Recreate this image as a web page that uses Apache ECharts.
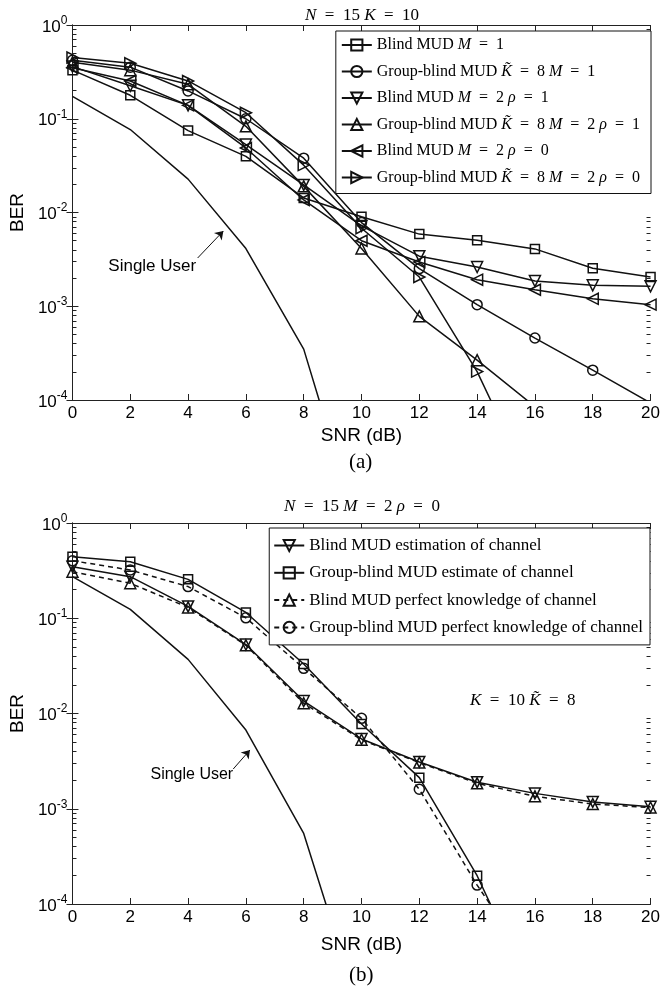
<!DOCTYPE html>
<html><head><meta charset="utf-8">
<script src="https://cdn.jsdelivr.net/npm/echarts@6/dist/echarts.min.js"></script>
<style>html,body{margin:0;padding:0;background:#fff}#c{width:663px;height:993px}</style>
</head><body><div id="c"></div>
<script>
// ---------- data ----------
const snr = [0, 2, 4, 6, 8, 10, 12, 14, 16, 18, 20];
// (a) N=15 K=10
const aBlindM1      = [0.33, 0.178, 0.0748, 0.0397, 0.0143, 0.0090, 0.00588, 0.00507, 0.00409, 0.00254, 0.00205];
const aGroupM1      = [0.42, 0.355, 0.198, 0.100, 0.038, 0.0078, 0.00252, 0.00104, 0.000458, 0.000208, 0.000093];
const aBlindM2r1    = [0.36, 0.225, 0.139, 0.053, 0.0197, 0.0072, 0.00342, 0.00262, 0.00186, 0.00167, 0.00163];
const aGroupM2r1    = [0.40, 0.33, 0.233, 0.083, 0.019, 0.00413, 0.00078, 0.000266, 0.000085];
const aBlindM2r0    = [0.35, 0.253, 0.139, 0.0488, 0.0136, 0.0050, 0.00297, 0.00192, 0.0015, 0.0012, 0.00104];
const aGroupM2r0    = [0.45, 0.39, 0.253, 0.116, 0.032, 0.0068, 0.00205, 0.000201, 0.00001];
const aSingle       = [0.173, 0.0767, 0.0227, 0.00413, 0.000349, 0.0000032];
// (b) N=15 M=2 rho=0
const bBlindEst     = [0.348, 0.273, 0.133, 0.053, 0.0135, 0.0054, 0.0031, 0.0019, 0.00145, 0.00118, 0.00105];
const bGroupEst     = [0.443, 0.392, 0.256, 0.115, 0.0331, 0.00776, 0.00212, 0.000198, 0.00001];
const bBlindPerf    = [0.308, 0.233, 0.130, 0.052, 0.0128, 0.0053, 0.00305, 0.00185, 0.00135, 0.00112, 0.00103];
const bGroupPerf    = [0.402, 0.321, 0.215, 0.101, 0.0298, 0.0089, 0.0016, 0.000158, 0.00002];
const bSingle       = [0.273, 0.124, 0.037, 0.0067, 0.00055, 0.0000065];

const aNames = ['aBlindM1','aGroupM1','aBlindM2r1','aGroupM2r1','aBlindM2r0','aGroupM2r0'];
const bNames = ['bBlindEst','bGroupEst','bBlindPerf','bGroupPerf'];
const E = '\u2002=\u2002';
const legendText = {
  aBlindM1: 'Blind MUD {i|M}' + E + '1',
  aGroupM1: 'Group-blind MUD {i|K\u0303}' + E + '8 {i|M}' + E + '1',
  aBlindM2r1: 'Blind MUD {i|M}' + E + '2 {i|\u03C1}' + E + '1',
  aGroupM2r1: 'Group-blind MUD {i|K\u0303}' + E + '8 {i|M}' + E + '2 {i|\u03C1}' + E + '1',
  aBlindM2r0: 'Blind MUD {i|M}' + E + '2 {i|\u03C1}' + E + '0',
  aGroupM2r0: 'Group-blind MUD {i|K\u0303}' + E + '8 {i|M}' + E + '2 {i|\u03C1}' + E + '0',
  bBlindEst: 'Blind MUD estimation of channel',
  bGroupEst: 'Group-blind MUD estimate of channel',
  bBlindPerf: 'Blind MUD perfect knowledge of channel',
  bGroupPerf: 'Group-blind MUD perfect knowledge of channel'
};

// ---------- style ----------
const INK = '#111';
const SANS = 'Liberation Sans';
const SERIF = 'Liberation Serif';
const pair = arr => arr.map((v, i) => [snr[i], v]);

function mk(name, data, grid, symbol, rot, dashed, size) {
  return {
    name, type: 'line', xAxisIndex: grid * 2, yAxisIndex: grid * 2,
    data: pair(data), symbol, symbolRotate: rot, symbolSize: size,
    showSymbol: true, clip: true, animation: false, z: 3,
    lineStyle: { color: INK, width: 1.5, type: dashed ? [5, 4] : 'solid' },
    itemStyle: { color: 'transparent', borderColor: INK, borderWidth: 1.5 },
    emphasis: { disabled: true }
  };
}
function single(name, data, grid, arrow, textPt, fs) {
  return {
    name, type: 'line', xAxisIndex: grid * 2, yAxisIndex: grid * 2,
    data: pair(data), showSymbol: false, symbol: 'none', clip: true, animation: false,
    lineStyle: { color: INK, width: 1.5 }, emphasis: { disabled: true },
    markLine: {
      silent: true, animation: false, symbol: ['none', 'arrow'], symbolSize: 8,
      lineStyle: { color: INK, width: 1, type: 'solid' }, label: { show: false },
      data: [[{ coord: arrow[0] }, { coord: arrow[1] }]]
    },
    markPoint: {
      silent: true, animation: false, symbol: 'circle', symbolSize: 1,
      itemStyle: { color: 'transparent' },
      label: { show: true, position: 'inside', formatter: 'Single User', fontFamily: SANS, fontSize: fs, color: '#000' },
      data: [{ coord: textPt, value: 0 }]
    }
  };
}
const decades = [0.0001, 0.001, 0.01, 0.1];
const minorVals = [];
decades.forEach(d => { for (let k = 2; k <= 9; k++) minorVals.push(+(d * k).toPrecision(6)); });

const grids = [
  { left: 69, right: 8, top: 25, height: 375 },
  { left: 69, right: 8, top: 523, height: 381 }
];
const nameGaps = [26, 31];
const xAxes = [], yAxes = [], yMinor = [];
[0, 1].forEach(g => {
  const axLine = { show: true, lineStyle: { color: '#222', width: 1 } };
  const tick = { show: true, inside: true, length: 6, lineStyle: { color: '#222', width: 1 } };
  xAxes.push({
    type: 'value', gridIndex: g, min: 0, max: 20, interval: 2, position: 'bottom',
    axisLine: axLine, axisTick: tick, splitLine: { show: false },
    axisLabel: { fontFamily: SANS, fontSize: 17, color: '#000', margin: 5 },
    name: 'SNR (dB)', nameLocation: 'middle', nameGap: nameGaps[g],
    nameTextStyle: { fontFamily: SANS, fontSize: 19, color: '#000' }
  });
  xAxes.push({
    type: 'value', gridIndex: g, min: 0, max: 20, interval: 2, position: 'top',
    axisLine: axLine, axisTick: tick, splitLine: { show: false }, axisLabel: { show: false }
  });
  yAxes.push({
    type: 'log', logBase: 10, gridIndex: g, min: 0.0001, max: 1, position: 'left',
    axisLine: axLine, axisTick: tick, splitLine: { show: false }, minorTick: { show: false },
    axisLabel: {
      margin: 5, color: '#000',
      formatter: v => '{b|10}{s|' + Math.round(Math.log10(v)) + '}',
      rich: {
        b: { fontFamily: SANS, fontSize: 17, color: '#000', verticalAlign: 'bottom' },
        s: { fontFamily: SANS, fontSize: 12, color: '#000', verticalAlign: 'bottom', padding: [0, 0, 9, 0] }
      }
    },
    name: 'BER', nameLocation: 'middle', nameGap: 42, nameRotate: 90,
    nameTextStyle: { fontFamily: SANS, fontSize: 19, color: '#000' }
  });
  yAxes.push({
    type: 'log', logBase: 10, gridIndex: g, min: 0.0001, max: 1, position: 'right',
    axisLine: axLine, axisTick: tick, splitLine: { show: false }, axisLabel: { show: false }
  });
  ['left', 'right'].forEach(pos => {
    yMinor.push({
      type: 'log', logBase: 10, gridIndex: g, min: 0.0001, max: 1, position: pos, offset: 0,
      axisLine: { show: false }, splitLine: { show: false },
      axisLabel: { show: false, customValues: minorVals },
      axisTick: { show: true, inside: true, length: 4, customValues: minorVals,
        lineStyle: { color: '#222', width: 1 } }
    });
  });
});

const legends = [
  {
    data: aNames, orient: 'vertical', right: 12, top: 31, padding: [6, 11, 8, 5],
    itemWidth: 30, itemHeight: 14, itemGap: 10.5, borderColor: '#111', borderWidth: 1,
    backgroundColor: '#fff', selectedMode: false, z: 10,
    formatter: n => legendText[n],
    textStyle: { fontFamily: SERIF, fontSize: 16, lineHeight: 16, color: '#000',
      rich: { i: { fontFamily: SERIF, fontStyle: 'italic', fontSize: 16, lineHeight: 16, color: '#000' } } }
  },
  {
    data: bNames, orient: 'vertical', right: 13, top: 528, padding: [9, 7, 9, 4],
    itemWidth: 30, itemHeight: 14, itemGap: 10.3, borderColor: '#111', borderWidth: 1,
    backgroundColor: '#fff', selectedMode: false, z: 10,
    formatter: n => legendText[n],
    textStyle: { fontFamily: SERIF, fontSize: 17, lineHeight: 17, color: '#000' }
  }
];

const series = [
  mk('aBlindM1', aBlindM1, 0, 'rect', 0, false, 9),
  mk('aGroupM1', aGroupM1, 0, 'circle', 0, false, 10),
  mk('aBlindM2r1', aBlindM2r1, 0, 'triangle', 180, false, 11),
  mk('aGroupM2r1', aGroupM2r1, 0, 'triangle', 0, false, 11),
  mk('aBlindM2r0', aBlindM2r0, 0, 'triangle', 90, false, 11),
  mk('aGroupM2r0', aGroupM2r0, 0, 'triangle', -90, false, 11),
  single('aSingle', aSingle, 0, [[4.33, 0.00327], [5.22, 0.00635]], [2.76, 0.00269], 17),
  mk('bBlindEst', bBlindEst, 1, 'triangle', 180, false, 11),
  mk('bGroupEst', bGroupEst, 1, 'rect', 0, false, 9),
  mk('bBlindPerf', bBlindPerf, 1, 'triangle', 0, true, 11),
  mk('bGroupPerf', bGroupPerf, 1, 'circle', 0, true, 10),
  single('bSingle', bSingle, 1, [[5.56, 0.00261], [6.14, 0.00414]], [4.13, 0.00229], 16)
];

const titleRich = {
  i: { fontFamily: SERIF, fontStyle: 'italic', fontSize: 17, color: '#000' },
  r: { fontFamily: SERIF, fontSize: 17, color: '#000' }
};
const chart = echarts.init(document.getElementById('c'), null, { renderer: 'canvas' });
chart.setOption({
  animation: false,
  backgroundColor: '#fff',
  title: [
    { text: '{i|N}{r|' + E + '15 }{i|K}{r|' + E + '10}', left: 362, top: 7, textAlign: 'center', padding: 0,
      textStyle: { rich: titleRich, fontFamily: SERIF, fontSize: 17, fontWeight: 'normal' } },
    { text: '{i|N}{r|' + E + '15 }{i|M}{r|' + E + '2 }{i|\u03C1}{r|' + E + '0}', left: 362, top: 498, textAlign: 'center', padding: 0,
      textStyle: { rich: titleRich, fontFamily: SERIF, fontSize: 17, fontWeight: 'normal' } }
  ],
  grid: grids,
  xAxis: xAxes,
  yAxis: yAxes.concat(yMinor),
  legend: legends,
  series,
  graphic: [
    { type: 'text', left: 349, top: 452, style: { text: '(a)', font: '21px "Liberation Serif"', fill: '#000' } },
    { type: 'text', left: 349, top: 965, style: { text: '(b)', font: '21px "Liberation Serif"', fill: '#000' } },
    { type: 'text', left: 470, top: 692, style: {
        text: '{i|K}{r|' + E + '10 }{i|K\u0303}{r|' + E + '8}', rich: titleRich, fill: '#000' } }
  ]
});
</script>
</body></html>
